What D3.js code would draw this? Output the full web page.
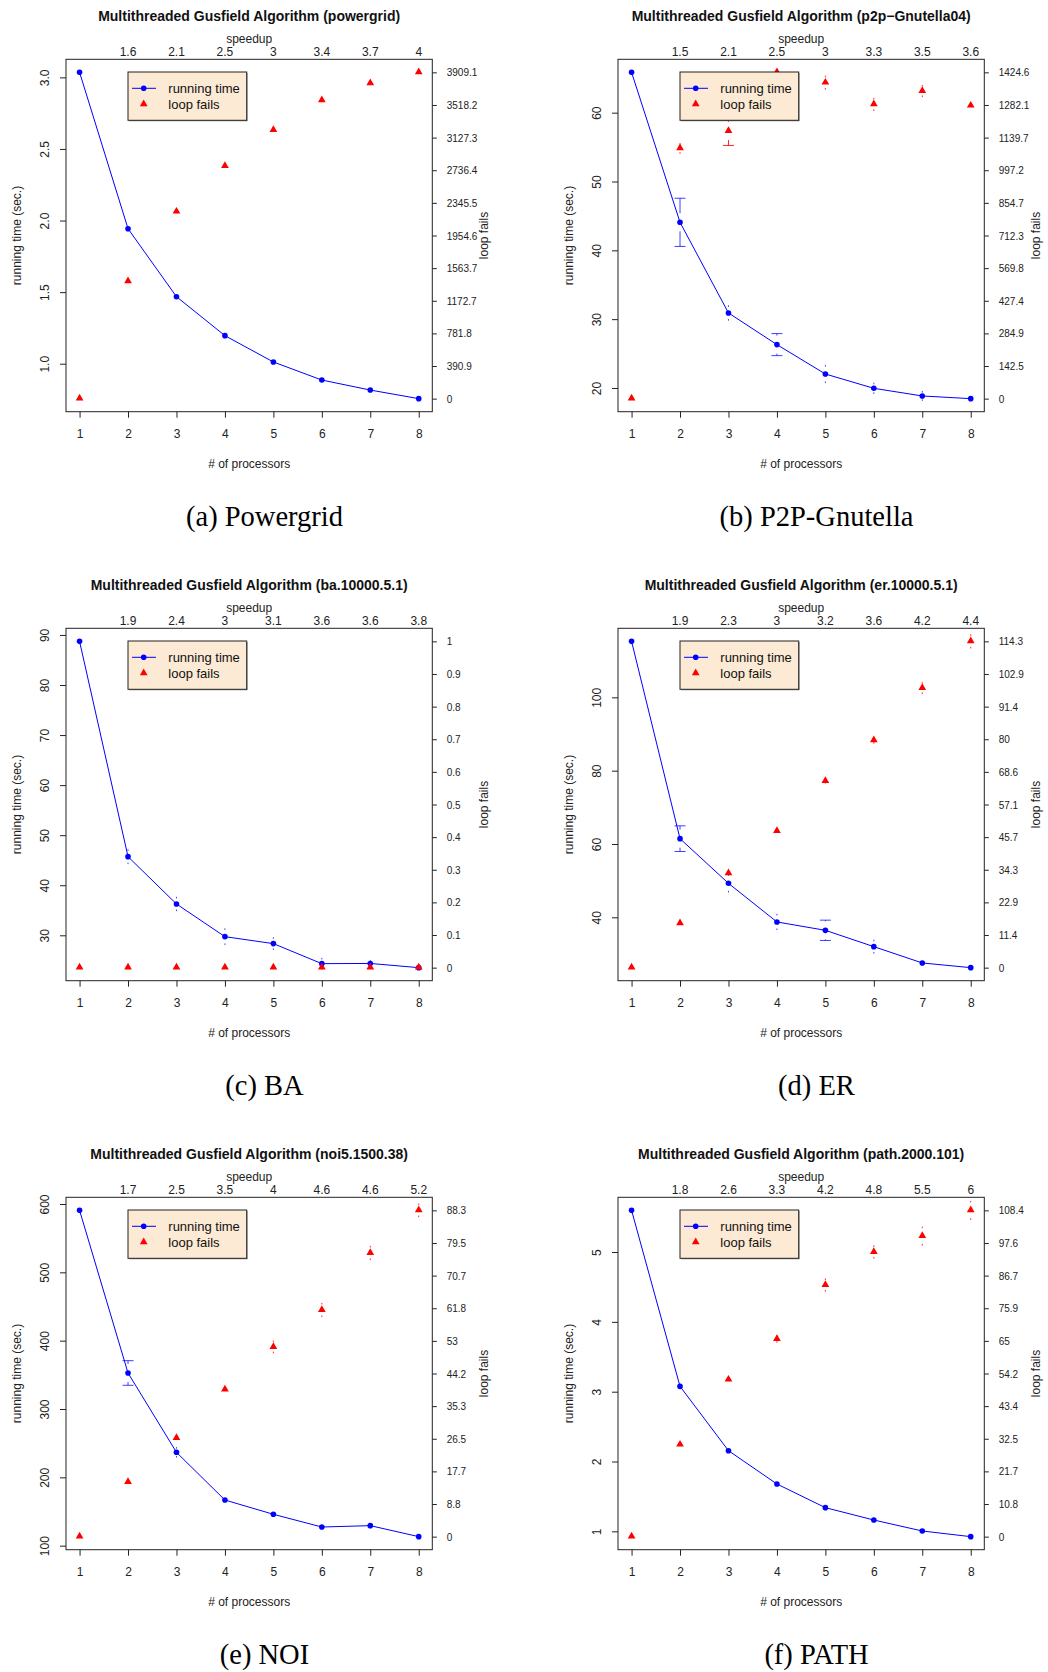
<!DOCTYPE html>
<html>
<head>
<meta charset="utf-8">
<script src="https://cdn.jsdelivr.net/npm/d3@7"></script>
<style>
  body { margin: 0; background: #fff; }
  svg { display: block; }
</style>
</head>
<body>
<svg id="chart" width="1048" height="1672"></svg>
<script>
const procs = [1, 2, 3, 4, 5, 6, 7, 8];

// (a) powergrid
const pgTime = [3.035, 1.943, 1.468, 1.196, 1.012, 0.886, 0.816, 0.756];
const pgTimeSd = [0, 0, 0, 0, 0, 0, 0, 0];
const pgFails = [0, 1405.5, 2240, 2787, 3218, 3574, 3777, 3909.1];
const pgFailsSd = [0, 0, 0, 0, 0, 0, 0, 0];
const pgSpeedup = ["1.6", "2.1", "2.5", "3", "3.4", "3.7", "4"];
const pgLeftTicks = ["1.0", "1.5", "2.0", "2.5", "3.0"];
const pgRightTicks = ["0", "390.9", "781.8", "1172.7", "1563.7", "1954.6", "2345.5", "2736.4", "3127.3", "3518.2", "3909.1"];

// (b) p2p-Gnutella04
const gnTime = [65.86, 44.07, 30.9, 26.3, 22.03, 19.95, 18.84, 18.45];
const gnTimeSd = [0, 3.5, 1.0, 1.6, 1.2, 0.7, 0.6, 0];
const gnFails = [0, 1092.8, 1168.5, 1424.6, 1379.5, 1284.9, 1343.1, 1279.1];
const gnFailsSd = [0, 20, 63, 0, 27, 25, 23, 0];
const gnSpeedup = ["1.5", "2.1", "2.5", "3", "3.3", "3.5", "3.6"];
const gnLeftTicks = ["20", "30", "40", "50", "60"];
const gnRightTicks = ["0", "142.5", "284.9", "427.4", "569.8", "712.3", "854.7", "997.2", "1139.7", "1282.1", "1424.6"];

// (c) ba.10000.5.1
const baTime = [88.72, 45.71, 36.26, 29.73, 28.34, 24.34, 24.38, 23.54];
const baTimeSd = [0, 1.33, 1.27, 1.5, 1.13, 1.0, 0.5, 0];
const baFails = [0, 0, 0, 0, 0, 0, 0, 0];
const baFailsSd = [0, 0, 0, 0, 0, 0, 0, 0];
const baSpeedup = ["1.9", "2.4", "3", "3.1", "3.6", "3.6", "3.8"];
const baLeftTicks = ["30", "40", "50", "60", "70", "80", "90"];
const baRightTicks = ["0", "0.1", "0.2", "0.3", "0.4", "0.5", "0.6", "0.7", "0.8", "0.9", "1"];

// (d) er.10000.5.1
const erTime = [115.27, 61.45, 49.27, 38.73, 36.45, 32.0, 27.55, 26.27];
const erTimeSd = [0, 3.5, 2.27, 2.0, 2.77, 1.68, 0, 0];
const erFails = [0, 15.53, 33.04, 47.87, 65.38, 79.63, 97.95, 114.3];
const erFailsSd = [0, 0, 0, 0, 0.6, 0.9, 1.81, 2.2];
const erSpeedup = ["1.9", "2.3", "3", "3.2", "3.6", "4.2", "4.4"];
const erLeftTicks = ["40", "60", "80", "100"];
const erRightTicks = ["0", "11.4", "22.9", "34.3", "45.7", "57.1", "68.6", "80", "91.4", "102.9", "114.3"];

// (e) noi5.1500.38
const noTime = [590.7, 352.7, 236.6, 166.8, 145.9, 127.3, 129.3, 113.2];
const noTimeSd = [0, 18.0, 6.5, 0, 0, 0, 0, 0];
const noFails = [0, 14.79, 26.7, 39.78, 51.32, 61.33, 76.76, 88.3];
const noFailsSd = [0, 0, 0, 0, 1.49, 1.71, 1.71, 1.62];
const noSpeedup = ["1.7", "2.5", "3.5", "4", "4.6", "4.6", "5.2"];
const noLeftTicks = ["100", "200", "300", "400", "500", "600"];
const noRightTicks = ["0", "8.8", "17.7", "26.5", "35.3", "44.2", "53", "61.8", "70.7", "79.5", "88.3"];

// (f) path.2000.101
const paTime = [5.597, 3.076, 2.155, 1.678, 1.339, 1.162, 1.005, 0.924];
const paTimeSd = [0, 0, 0, 0, 0, 0, 0, 0];
const paFails = [0, 30.56, 52.15, 65.66, 83.6, 94.56, 99.87, 108.4];
const paFailsSd = [0, 0, 0, 1.0, 1.94, 1.94, 2.88, 2.88];
const paSpeedup = ["1.8", "2.6", "3.3", "4.2", "4.8", "5.5", "6"];
const paLeftTicks = ["1", "2", "3", "4", "5"];
const paRightTicks = ["0", "10.8", "21.7", "32.5", "43.4", "54.2", "65", "75.9", "86.7", "97.6", "108.4"];

const panels = [
  {title: "Multithreaded Gusfield Algorithm (powergrid)", caption: "(a) Powergrid",
   time: pgTime, timeSd: pgTimeSd, fails: pgFails, failsSd: pgFailsSd, speedup: pgSpeedup, leftTicks: pgLeftTicks, rightTicks: pgRightTicks},
  {title: "Multithreaded Gusfield Algorithm (p2p\u2212Gnutella04)", caption: "(b) P2P-Gnutella",
   time: gnTime, timeSd: gnTimeSd, fails: gnFails, failsSd: gnFailsSd, speedup: gnSpeedup, leftTicks: gnLeftTicks, rightTicks: gnRightTicks},
  {title: "Multithreaded Gusfield Algorithm (ba.10000.5.1)", caption: "(c) BA",
   time: baTime, timeSd: baTimeSd, fails: baFails, failsSd: baFailsSd, speedup: baSpeedup, leftTicks: baLeftTicks, rightTicks: baRightTicks},
  {title: "Multithreaded Gusfield Algorithm (er.10000.5.1)", caption: "(d) ER",
   time: erTime, timeSd: erTimeSd, fails: erFails, failsSd: erFailsSd, speedup: erSpeedup, leftTicks: erLeftTicks, rightTicks: erRightTicks},
  {title: "Multithreaded Gusfield Algorithm (noi5.1500.38)", caption: "(e) NOI",
   time: noTime, timeSd: noTimeSd, fails: noFails, failsSd: noFailsSd, speedup: noSpeedup, leftTicks: noLeftTicks, rightTicks: noRightTicks},
  {title: "Multithreaded Gusfield Algorithm (path.2000.101)", caption: "(f) PATH",
   time: paTime, timeSd: paTimeSd, fails: paFails, failsSd: paFailsSd, speedup: paSpeedup, leftTicks: paLeftTicks, rightTicks: paRightTicks}
];

const svg = d3.select("#chart");
const font = "'Liberation Sans', Arial, Helvetica, sans-serif";
const box = {left: 66, right: 432.3, top: 59.3, bottom: 411.7};
const gap = 9; // plotCI style gap round the point

// error bar half (from point out to one end), plotrix plotCI look
function errHalf(g, cx, cy, yEnd, color) {
  const dist = Math.abs(yEnd - cy);
  if (dist < 0.5) return;
  const dir = yEnd < cy ? -1 : 1;
  if (dist > gap) {
    g.append("line").attr("x1", cx).attr("x2", cx).attr("y1", cy + dir * gap).attr("y2", yEnd)
      .attr("stroke", color).attr("stroke-width", 1);
    g.append("line").attr("x1", cx - 5.5).attr("x2", cx + 5.5).attr("y1", yEnd).attr("y2", yEnd)
      .attr("stroke", color).attr("stroke-width", 1);
  } else {
    g.append("line").attr("x1", cx).attr("x2", cx).attr("y1", yEnd - 0.8).attr("y2", yEnd + 0.8)
      .attr("stroke", color).attr("stroke-width", 1);
  }
}

function drawPanel(p, col, row) {
  const g = svg.append("g").attr("transform", `translate(${col * 552},${row * 569})`);
  const xPad = (d3.max(procs) - d3.min(procs)) * 0.04;
  const x = d3.scaleLinear().domain([d3.min(procs) - xPad, d3.max(procs) + xPad]).range([box.left, box.right]);
  const [tMin, tMax] = d3.extent(p.time);
  const yPad = (tMax - tMin) * 0.04;
  const y = d3.scaleLinear().domain([tMin - yPad, tMax + yPad]).range([box.bottom, box.top]);
  const failMax = +p.rightTicks[p.rightTicks.length - 1];
  const yR = d3.scaleLinear().domain([0, failMax]).range([y(tMin), y(tMax)]);
  const rightVals = p.rightTicks.map((t, i) => failMax * i / (p.rightTicks.length - 1));

  // title
  g.append("text").attr("x", (box.left + box.right) / 2).attr("y", 20.5).attr("text-anchor", "middle")
    .style("font-family", font).style("font-size", "14px").style("font-weight", "bold").attr("fill", "#111").text(p.title);

  // bottom axis
  const xAxis = g.append("g").attr("transform", `translate(0,${box.bottom})`)
    .call(d3.axisBottom(x).tickValues(procs).tickSize(6).tickSizeOuter(0).tickFormat(d3.format("d")));
  xAxis.select(".domain").remove();
  xAxis.selectAll("line").attr("stroke", "#222");
  xAxis.selectAll("text").attr("y", 26).attr("dy", 0).style("font-family", font).style("font-size", "12px").attr("fill", "#222");

  // left axis, labels parallel to the axis
  const leftVals = p.leftTicks.map(Number);
  const yAxis = g.append("g").attr("transform", `translate(${box.left},0)`)
    .call(d3.axisLeft(y).tickValues(leftVals).tickSize(6).tickSizeOuter(0).tickFormat((d, i) => p.leftTicks[i]));
  yAxis.select(".domain").remove();
  yAxis.selectAll("line").attr("stroke", "#222");
  yAxis.selectAll("text").attr("transform", "rotate(-90)").attr("x", 0).attr("y", -16.7).attr("dy", 0)
    .attr("text-anchor", "middle").style("font-family", font).style("font-size", "12px").attr("fill", "#222");

  // right axis (loop fails)
  const rAxis = g.append("g").attr("transform", `translate(${box.right},0)`)
    .call(d3.axisRight(yR).tickValues(rightVals).tickSize(4.5).tickSizeOuter(0).tickFormat((d, i) => p.rightTicks[i]));
  rAxis.select(".domain").remove();
  rAxis.selectAll("line").attr("stroke", "#222");
  rAxis.selectAll("text").attr("x", 14.4).attr("dy", "0.35em").style("font-family", font).style("font-size", "10px").attr("fill", "#222");

  // top speedup labels
  g.append("text").attr("x", (box.left + box.right) / 2).attr("y", 42.5).attr("text-anchor", "middle")
    .style("font-family", font).style("font-size", "12px").attr("fill", "#222").text("speedup");
  g.append("g").selectAll("text").data(p.speedup).enter().append("text")
    .attr("x", (d, i) => x(procs[i + 1])).attr("y", 56).attr("text-anchor", "middle")
    .style("font-family", font).style("font-size", "12px").attr("fill", "#222").text(d => d);

  // axis titles
  g.append("text").attr("x", (box.left + box.right) / 2).attr("y", 467.5).attr("text-anchor", "middle")
    .style("font-family", font).style("font-size", "12px").attr("fill", "#222").text("# of processors");
  g.append("text").attr("transform", `translate(20.5,${(box.top + box.bottom) / 2}) rotate(-90)`).attr("text-anchor", "middle")
    .style("font-family", font).style("font-size", "12px").attr("fill", "#222").text("running time (sec.)");
  g.append("text").attr("transform", `translate(487.5,${(box.top + box.bottom) / 2}) rotate(-90)`).attr("text-anchor", "middle")
    .style("font-family", font).style("font-size", "12px").attr("fill", "#222").text("loop fails");

  // running time line + points
  const line = d3.line().x((d, i) => x(procs[i])).y(d => y(d));
  g.append("path").datum(p.time).attr("d", line).attr("fill", "none").attr("stroke", "#0000ff").attr("stroke-width", 1);
  g.append("g").selectAll("circle").data(p.time).enter().append("circle")
    .attr("cx", (d, i) => x(procs[i])).attr("cy", d => y(d)).attr("r", 2.8).attr("fill", "#0000ff");

  // error bars
  const errG = g.append("g");
  p.time.forEach((d, i) => {
    const sd = p.timeSd[i];
    errHalf(errG, x(procs[i]), y(d), y(d + sd), "rgba(0,0,255,0.75)");
    errHalf(errG, x(procs[i]), y(d), y(d - sd), "rgba(0,0,255,0.75)");
  });
  p.fails.forEach((d, i) => {
    const sd = p.failsSd[i];
    errHalf(errG, x(procs[i]), yR(d), yR(d + sd), "rgba(255,0,0,0.85)");
    errHalf(errG, x(procs[i]), yR(d), yR(d - sd), "rgba(255,0,0,0.85)");
  });

  // loop fails triangles
  const tri = d3.symbol(d3.symbolTriangle, 26);
  g.append("g").selectAll("path").data(p.fails).enter().append("path")
    .attr("transform", (d, i) => `translate(${x(procs[i])},${yR(d) - 0.3})`).attr("d", tri).attr("fill", "#ff0000");

  // legend
  const lg = g.append("g").attr("transform", "translate(128,72)");
  lg.append("rect").attr("x", 1).attr("y", 1).attr("width", 118.7).attr("height", 48.3).attr("fill", "#9a9a9a");
  lg.append("rect").attr("width", 118.7).attr("height", 48.3).attr("fill", "#fcead5").attr("stroke", "#222").attr("stroke-width", 1);
  lg.append("line").attr("x1", 4).attr("x2", 28).attr("y1", 16.3).attr("y2", 16.3).attr("stroke", "#0000ff").attr("stroke-width", 1);
  lg.append("circle").attr("cx", 15.7).attr("cy", 16.3).attr("r", 2.8).attr("fill", "#0000ff");
  lg.append("path").attr("transform", "translate(15.7,32)").attr("d", tri).attr("fill", "#ff0000");
  lg.append("text").attr("x", 40.3).attr("y", 21).style("font-family", font).style("font-size", "13px").attr("fill", "#111").text("running time");
  lg.append("text").attr("x", 40.3).attr("y", 37).style("font-family", font).style("font-size", "13px").attr("fill", "#111").text("loop fails");

  // plot box
  g.append("rect").attr("x", box.left).attr("y", box.top).attr("width", box.right - box.left).attr("height", box.bottom - box.top)
    .attr("fill", "none").attr("stroke", "#222").attr("stroke-width", 1);

  // subfigure caption
  g.append("text").attr("x", 264.5).attr("y", 526).attr("text-anchor", "middle")
    .style("font-family", "'Liberation Serif', 'Times New Roman', serif").style("font-size", "28.5px").attr("fill", "#000").text(p.caption);
}

panels.forEach((p, i) => drawPanel(p, i % 2, Math.floor(i / 2)));
</script>
</body>
</html>
